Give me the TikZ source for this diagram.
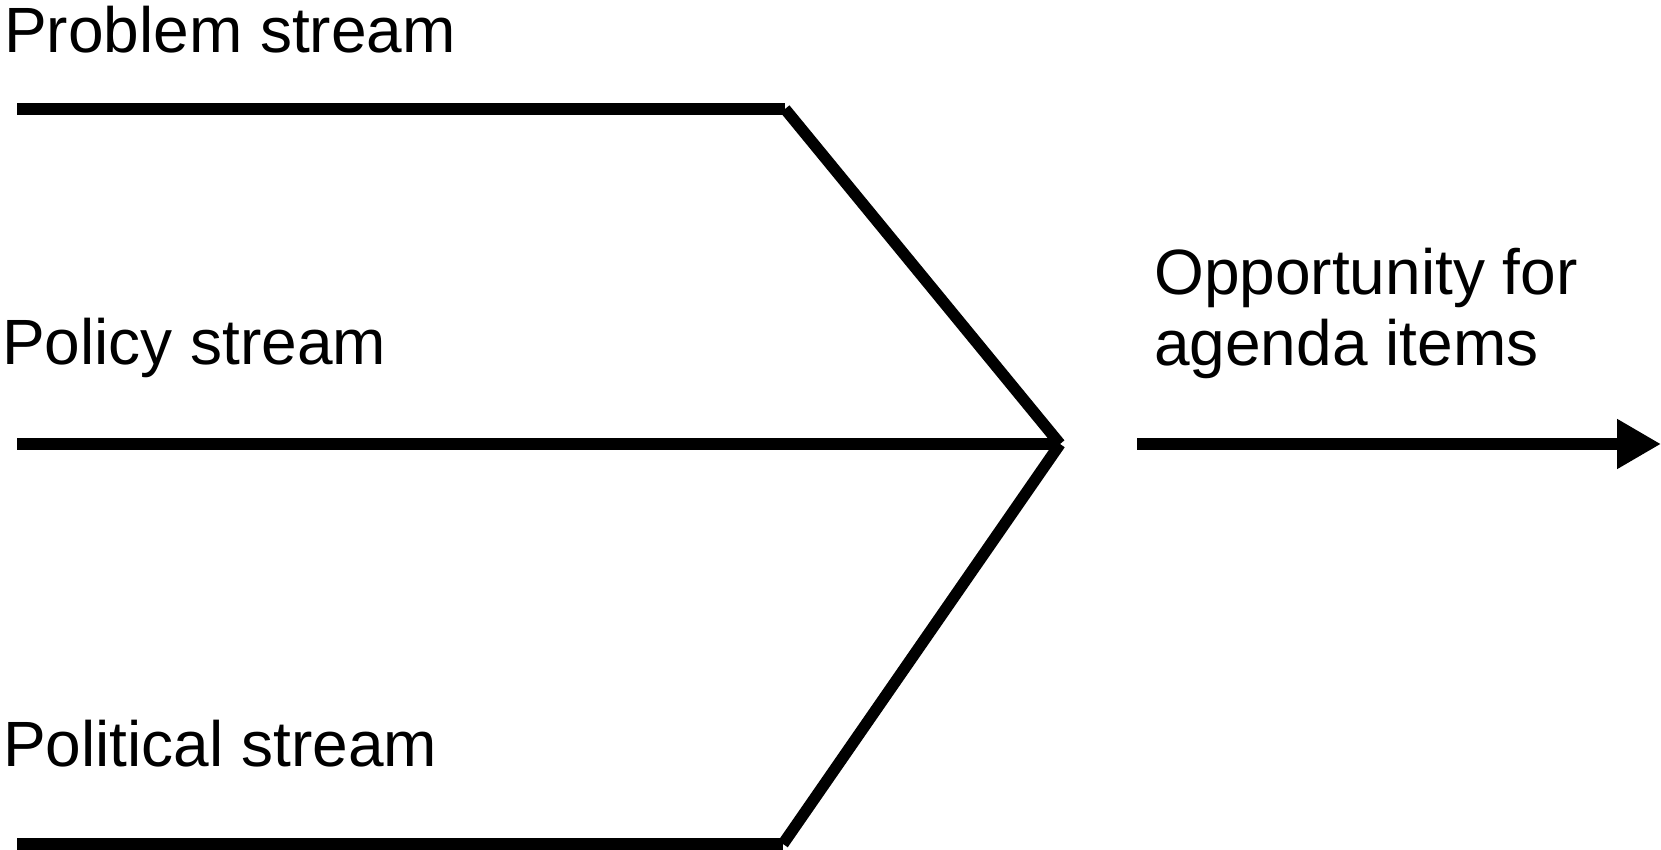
\documentclass[tikz,border=0pt]{standalone}
\usepackage{fontspec}
\setmainfont{Liberation Sans}
\usetikzlibrary{arrows.meta}
\begin{document}
\begin{tikzpicture}[x=1pt,y=1pt,
  streamline/.style={line width=11.5pt, line cap=butt},
  label/.style={anchor=base west, inner sep=0pt, font=\fontsize{64}{71}\selectfont},
  outarrow/.style={line width=12pt, -{Triangle[length=44pt,width=47pt]}}]
\useasboundingbox (0,0) rectangle (1661,850);
% text labels (y measured from top: 850 - y)
\node[label] (problem) at (4,797) {Problem stream};
\node[label] (policy) at (2,485) {Policy stream};
\node[label] (political) at (3,83) {Political stream};
\node[label, align=left] (opp) at (1154,484) {Opportunity for\\agenda items};
% stream coordinates
\coordinate (pa) at (17,741);
\coordinate (pb) at (785,741);
\coordinate (ma) at (17,406);
\coordinate (j) at (1060,406);
\coordinate (ba) at (17,6);
\coordinate (bb) at (783,6);
\coordinate (aa) at (1137,406);
\coordinate (ab) at (1661,406);
% lines
\draw[streamline] (pa) -- (pb);
\draw[streamline] (pb) -- (j);
\draw[streamline] (ma) -- (j);
\draw[streamline] (bb) -- (j);
\draw[streamline] (ba) -- (bb);
\draw[outarrow] (aa) -- (ab);
\end{tikzpicture}
\end{document}
